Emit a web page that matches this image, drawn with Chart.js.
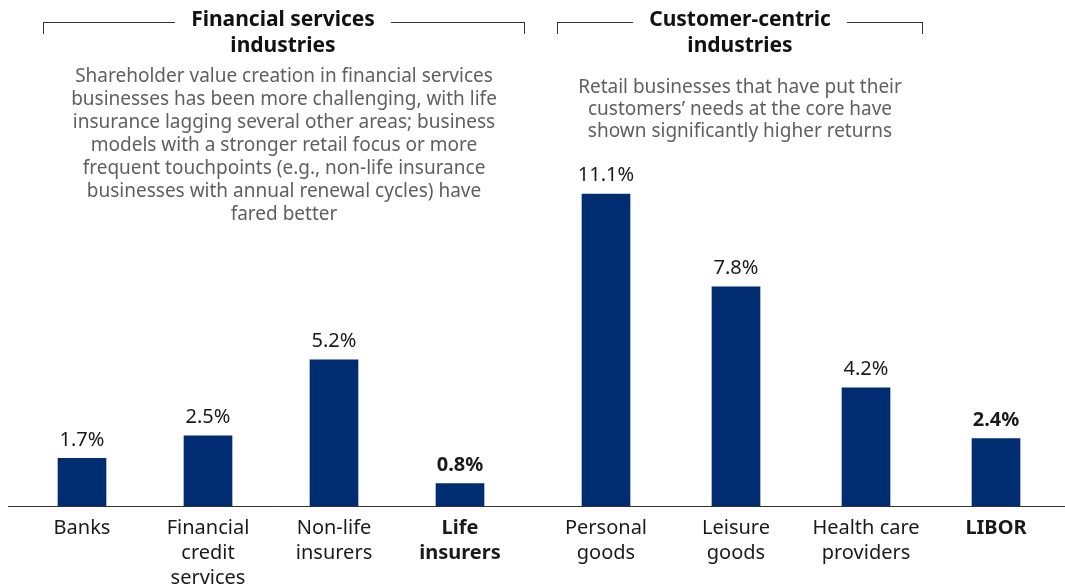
<!DOCTYPE html>
<html>
<head>
<meta charset="utf-8">
<script src="https://cdn.jsdelivr.net/npm/chart.js@4"></script>
<style>
  html, body { margin: 0; padding: 0; background: #fff; }
  body { width: 1065px; height: 588px; position: relative; overflow: hidden; font-family: 'Noto Sans', sans-serif; }
  .panel { position: absolute; top: 0; height: 588px; }
  .bracket { position: absolute; top: 22px; height: 12px; border: 1px solid #333; border-bottom: none; box-sizing: border-box; }
  .head { position: absolute; top: 5px; text-align: center; }
  .head span { display: inline-block; background: #fff; padding: 0 16px; font-weight: 700; font-size: 21px; line-height: 26px; color: #111; }
  .note { position: absolute; text-align: center; font-size: 19px; color: #5f5f5f; white-space: nowrap; }
</style>
</head>
<body>
<div class="panel" style="left:0;width:541px"><canvas id="fin" width="541" height="588"></canvas></div>
<div class="panel" style="left:541px;width:524px"><canvas id="cust" width="524" height="588"></canvas></div>

<div class="bracket" style="left:43px;width:482px"></div>
<div class="head" style="left:83px;width:400px"><span>Financial services<br>industries</span></div>
<div class="note" style="left:34px;width:500px;top:64.2px;line-height:23px">Shareholder value creation in financial services<br>businesses has been more challenging, with life<br>insurance lagging several other areas; business<br>models with a stronger retail focus or more<br>frequent touchpoints (e.g., non-life insurance<br>businesses with annual renewal cycles) have<br>fared better</div>

<div class="bracket" style="left:557px;width:366px"></div>
<div class="head" style="left:540px;width:400px"><span>Customer-centric<br>industries</span></div>
<div class="note" style="left:540px;width:400px;top:74.8px;line-height:22.3px">Retail businesses that have put their<br>customers’ needs at the core have<br>shown significantly higher returns</div>

<script>
// Average annual shareholder returns, %
const finCategories = [['Banks'], ['Financial', 'credit', 'services'], ['Non-life', 'insurers'], ['Life', 'insurers']];
const finValues = [1.7, 2.5, 5.2, 0.8];
const custCategories = [['Personal', 'goods'], ['Leisure', 'goods'], ['Health care', 'providers'], ['LIBOR']];
const custValues = [11.1, 7.8, 4.2, 2.4];
// categories shown in bold (benchmark / laggard)
const finBold = [3];
const custBold = [3];

const BAR = '#002D72';
const FONT = "'Noto Sans', sans-serif";

// value labels above each bar
const valueLabels = {
  id: 'valueLabels',
  afterDatasetsDraw(chart, args, opts) {
    const ctx = chart.ctx;
    const meta = chart.getDatasetMeta(0);
    const data = chart.data.datasets[0].data;
    ctx.save();
    ctx.textAlign = 'center';
    ctx.textBaseline = 'alphabetic';
    ctx.fillStyle = '#1a1a1a';
    meta.data.forEach((bar, i) => {
      const bold = opts.bold.includes(i);
      ctx.font = (bold ? '700 ' : '400 ') + '20px ' + FONT;
      ctx.fillText(data[i].toFixed(1) + '%', bar.x, bar.y - 12.5);
    });
    ctx.restore();
  }
};

// horizontal baseline under the bars
const baseline = {
  id: 'baseline',
  afterDatasetsDraw(chart, args, opts) {
    const ctx = chart.ctx;
    const y = Math.round(chart.chartArea.bottom) + 0.5;
    ctx.save();
    ctx.strokeStyle = '#333';
    ctx.lineWidth = 1;
    ctx.beginPath();
    ctx.moveTo(opts.from, y);
    ctx.lineTo(chart.width, y);
    ctx.stroke();
    ctx.restore();
  }
};

function makeChart(id, labels, values, bold, pad, lineFrom) {
  return new Chart(document.getElementById(id), {
    type: 'bar',
    data: {
      labels: labels,
      datasets: [{ data: values, backgroundColor: BAR, barThickness: 48 }]
    },
    options: {
      responsive: false,
      animation: false,
      layout: { padding: pad },
      plugins: {
        legend: { display: false },
        tooltip: { enabled: false },
        valueLabels: { bold: bold },
        baseline: { from: lineFrom }
      },
      scales: {
        y: { display: false, min: 0, max: 18 },
        x: {
          grid: { display: false, drawTicks: false },
          border: { display: false },
          afterFit(scale) { scale.height = 82; },
          ticks: {
            padding: 10,
            color: '#1a1a1a',
            maxRotation: 0,
            autoSkip: false,
            font: (c) => ({ family: FONT, size: 20, lineHeight: 1.24, weight: bold.includes(c.index) ? '700' : '400' })
          }
        }
      }
    },
    plugins: [valueLabels, baseline]
  });
}

makeChart('fin', finCategories, finValues, finBold, { left: 19, right: 18, top: 0, bottom: 0 }, 8);
makeChart('cust', custCategories, custValues, custBold, { left: 0, right: 4, top: 0, bottom: 0 }, 0);
</script>
</body>
</html>
